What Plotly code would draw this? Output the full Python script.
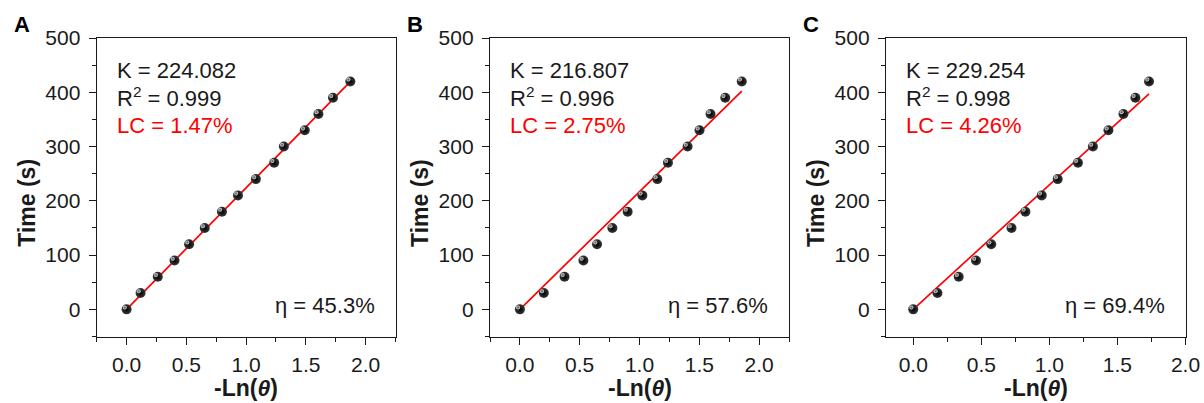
import plotly.graph_objects as go

# ---- data -------------------------------------------------------------
time_s = [0, 30, 60, 90, 120, 150, 180, 210, 240, 270, 300, 330, 360, 390, 420]

neg_ln_theta_a = [0.0, 0.117, 0.261, 0.401, 0.523, 0.654, 0.798, 0.932,
                  1.082, 1.235, 1.316, 1.491, 1.605, 1.727, 1.872]
neg_ln_theta_b = [0.0, 0.200, 0.373, 0.531, 0.645, 0.773, 0.901, 1.024,
                  1.149, 1.238, 1.402, 1.502, 1.594, 1.717, 1.855]
neg_ln_theta_c = [0.0, 0.178, 0.334, 0.461, 0.573, 0.722, 0.824, 0.944,
                  1.061, 1.210, 1.320, 1.434, 1.544, 1.632, 1.732]

slope_k = [224.082, 216.807, 229.254]
r_squared = ["0.999", "0.996", "0.998"]
lc_pct = ["1.47%", "2.75%", "4.26%"]
eta_pct = ["45.3%", "57.6%", "69.4%"]
panel_letters = ["A", "B", "C"]
x_ranges = [[-0.25, 2.25], [-0.25, 2.25], [-0.2, 2.0]]
y_range = [-50, 500]

series_x = [neg_ln_theta_a, neg_ln_theta_b, neg_ln_theta_c]

# ---- layout constants (pixels) ----------------------------------------
W, H = 1204, 403
FONT = "Liberation Sans, Arial, sans-serif"
INK = "#1a1a1a"
box_left = [96.7, 490.0, 886.0]
box_right = [395.5, 789.0, 1185.5]
box_top, box_bottom = 38.0, 336.5
# shine spot on each ball: a copy of the subplot nudged up-left
shine_dx, shine_dy = -1.8, -1.8


def fx(p):
    return p / W


def fy(p):
    return 1 - p / H


fig = go.Figure()
annotations = []

for i in range(3):
    sfx = "" if i == 0 else str(i + 1)
    xa, ya = "x" + sfx, "y" + sfx
    hx, hy = "x" + str(i + 4), "y" + str(i + 4)
    xs = series_x[i]
    k = slope_k[i]

    # linear fit through the origin, slope K
    x_fit = [0.0, max(xs)]
    y_fit = [k * v for v in x_fit]
    fig.add_trace(go.Scatter(
        x=x_fit, y=y_fit, mode="lines",
        line=dict(color="#ff0000", width=1.7),
        xaxis=xa, yaxis=ya, showlegend=False, hoverinfo="skip"))

    fig.add_trace(go.Scatter(
        x=xs, y=time_s, mode="markers",
        marker=dict(size=10, color="#383838",
                    gradient=dict(type="radial", color="#000000"),
                    line=dict(width=0)),
        xaxis=xa, yaxis=ya, showlegend=False))

    # highlight dots, drawn on a hidden twin subplot shifted by a pixel or two
    fig.add_trace(go.Scatter(
        x=xs, y=time_s, mode="markers",
        marker=dict(size=4, color="#e6e6e6",
                    gradient=dict(type="radial", color="rgba(120,120,120,0.6)"),
                    line=dict(width=0)),
        xaxis=hx, yaxis=hy, showlegend=False, hoverinfo="skip"))

    axis_common = dict(
        showline=True, linecolor=INK, linewidth=1.3, mirror=True,
        showgrid=False, zeroline=False, automargin=False,
        ticks="outside", tickcolor=INK, tickwidth=1.2, ticklen=7,
        tickfont=dict(family=FONT, size=21, color=INK),
    )
    hidden = dict(visible=False, showgrid=False, zeroline=False,
                  automargin=False, fixedrange=True)
    fig.update_layout({
        ("xaxis" + sfx): dict(
            axis_common,
            domain=[fx(box_left[i]), fx(box_right[i])],
            anchor=ya, range=x_ranges[i],
            tick0=0, dtick=0.5, tickformat=".1f", ticklabelstandoff=2,
            minor=dict(ticks="outside", ticklen=4, tick0=0, dtick=0.25,
                       tickcolor=INK, tickwidth=1.2, showgrid=False),
        ),
        ("yaxis" + sfx): dict(
            axis_common,
            domain=[fy(box_bottom), fy(box_top)],
            anchor=xa, range=y_range, ticklabelstandoff=4,
            tick0=0, dtick=100,
            minor=dict(ticks="outside", ticklen=4, tick0=0, dtick=50,
                       tickcolor=INK, tickwidth=1.2, showgrid=False),
        ),
        ("xaxis" + str(i + 4)): dict(
            hidden, anchor=hy, range=x_ranges[i],
            domain=[fx(box_left[i] + shine_dx), fx(box_right[i] + shine_dx)],
        ),
        ("yaxis" + str(i + 4)): dict(
            hidden, anchor=hx, range=y_range,
            domain=[fy(box_bottom + shine_dy), fy(box_top + shine_dy)],
        ),
    })

    left, right = box_left[i], box_right[i]
    mid = (left + right) / 2
    txt = dict(family=FONT, size=22, color=INK)

    annotations += [
        dict(text=f"K = {k:.3f}", x=fx(left + 18), y=fy(70.8),
             xanchor="left", yanchor="middle", font=txt),
        dict(text=f"R<sup>2</sup> = {r_squared[i]}", x=fx(left + 18), y=fy(97.0),
             xanchor="left", yanchor="middle", font=txt),
        dict(text=f"LC = {lc_pct[i]}", x=fx(left + 18), y=fy(125.3),
             xanchor="left", yanchor="middle",
             font=dict(family=FONT, size=22, color="#ff0000")),
        dict(text=f"η = {eta_pct[i]}", x=fx(right - 19), y=fy(305),
             xanchor="right", yanchor="middle", font=txt),
        dict(text="<b>-Ln(<i>θ</i>)</b>", x=fx(mid), y=fy(388),
             xanchor="center", yanchor="middle",
             font=dict(family=FONT, size=23, color=INK)),
        dict(text="<b>Time (s)</b>", x=fx(left - 70), y=fy(203),
             xanchor="center", yanchor="middle", textangle=-90,
             font=dict(family=FONT, size=23, color=INK)),
        dict(text=f"<b>{panel_letters[i]}</b>", x=fx(left - 85), y=fy(24.5),
             xanchor="left", yanchor="middle",
             font=dict(family=FONT, size=22, color="#000000")),
    ]

for a in annotations:
    a.update(xref="paper", yref="paper", showarrow=False)

fig.update_layout(
    width=W, height=H,
    margin=dict(l=0, r=0, t=0, b=0, autoexpand=False),
    paper_bgcolor="white", plot_bgcolor="rgba(0,0,0,0)",
    annotations=annotations,
    font=dict(family=FONT),
)

fig.write_html("out.html")
